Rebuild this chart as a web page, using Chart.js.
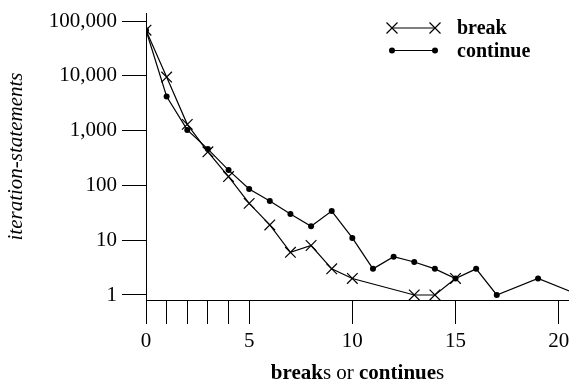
<!DOCTYPE html>
<html>
<head>
<meta charset="utf-8">
<script src="https://cdn.jsdelivr.net/npm/chart.js@4.4.1/dist/chart.umd.min.js"></script>
<style>
    html, body { margin: 0; padding: 0; background: #fff; overflow: hidden; }
    #wrap { position: relative; width: 569px; height: 383px; }
</style>
</head>
<body>
<div id="wrap"><canvas id="loopChart"></canvas></div>
<script>
// Values
const breakX = [0, 1, 2, 3, 4, 5, 6, 7, 8, 9, 10, 13, 14, 15];
const breakCounts = [68000, 9500, 1300, 410, 145, 47, 19, 6, 8, 3, 2, 1, 1, 2];
const continueX = [0, 1, 2, 3, 4, 5, 6, 7, 8, 9, 10, 11, 12, 13, 14, 15, 16, 17, 19, 21];
const continueCounts = [68000, 4200, 1030, 460, 190, 86, 52, 30, 18, 34, 11, 3, 5, 4, 3, 2, 3, 1, 2, 1];
const xTicks = [0, 1, 2, 3, 4, 5, 10, 15, 20];
const yTicks = [1, 10, 100, 1000, 10000, 100000];

const SERIF = '"Liberation Serif", "Times New Roman", serif';

function toPoints(xs, ys) {
    return xs.map((x, i) => ({ x: x, y: ys[i] }));
}

// Legend and mixed-weight x title drawn on the canvas
const extrasPlugin = {
    id: 'extras',
    afterDraw(chart) {
        const ctx = chart.ctx;
        ctx.save();
        ctx.strokeStyle = '#000';
        ctx.fillStyle = '#000';
        ctx.lineWidth = 1.2;

        // legend rows
        const rows = [
            { label: 'break', y: 28, style: 'cross' },
            { label: 'continue', y: 50.5, style: 'dot' }
        ];
        rows.forEach(r => {
            ctx.beginPath();
            ctx.moveTo(392, r.y);
            ctx.lineTo(435, r.y);
            ctx.stroke();
            [392, 435].forEach(px => {
                if (r.style === 'cross') {
                    const d = 5.5;
                    ctx.beginPath();
                    ctx.moveTo(px - d, r.y - d); ctx.lineTo(px + d, r.y + d);
                    ctx.moveTo(px - d, r.y + d); ctx.lineTo(px + d, r.y - d);
                    ctx.stroke();
                } else {
                    ctx.beginPath();
                    ctx.arc(px, r.y, 3, 0, Math.PI * 2);
                    ctx.fill();
                }
            });
            ctx.font = 'bold 20px ' + SERIF;
            ctx.textBaseline = 'middle';
            ctx.textAlign = 'left';
            ctx.fillText(r.label, 457, r.y + 1);
        });

        // x axis title: "breaks or continues"
        const parts = [
            ['break', 'bold'], ['s or ', 'normal'], ['continue', 'bold'], ['s', 'normal']
        ];
        ctx.textBaseline = 'alphabetic';
        let total = 0;
        parts.forEach(p => { ctx.font = p[1] + ' 21px ' + SERIF; total += ctx.measureText(p[0]).width; });
        const area = chart.chartArea;
        let x = (area.left + area.right) / 2 - total / 2;
        parts.forEach(p => {
            ctx.font = p[1] + ' 21px ' + SERIF;
            ctx.fillText(p[0], x, 379);
            x += ctx.measureText(p[0]).width;
        });
        ctx.restore();
    }
};

new Chart(document.getElementById('loopChart'), {
    type: 'line',
    data: {
        datasets: [
            {
                label: 'break',
                data: toPoints(breakX, breakCounts),
                borderColor: '#000',
                borderWidth: 1.2,
                pointStyle: 'crossRot',
                pointRadius: 7.5,
                pointBorderWidth: 1.2,
                pointBorderColor: '#000',
                pointBackgroundColor: '#000',
                tension: 0
            },
            {
                label: 'continue',
                data: toPoints(continueX, continueCounts),
                borderColor: '#000',
                borderWidth: 1.2,
                pointStyle: 'circle',
                pointRadius: 3,
                pointBorderWidth: 0,
                pointBackgroundColor: '#000',
                tension: 0
            }
        ]
    },
    options: {
        responsive: true,
        maintainAspectRatio: false,
        animation: false,
        layout: { autoPadding: false, padding: { top: 13, left: 0, right: 0, bottom: 0 } },
        plugins: {
            legend: { display: false },
            tooltip: { enabled: false }
        },
        scales: {
            x: {
                type: 'linear',
                min: 0,
                max: 20.5,
                border: { color: '#000', width: 1 },
                grid: { drawOnChartArea: false, tickLength: 24, color: '#000' },
                ticks: {
                    autoSkip: false,
                    maxRotation: 0,
                    includeBounds: false,
                    padding: 5,
                    color: '#000',
                    font: { family: SERIF, size: 21 },
                    callback: v => (v % 5 === 0 ? String(v) : '')
                },
                afterBuildTicks: scale => { scale.ticks = xTicks.map(v => ({ value: v })); },
                afterFit: scale => {
                    scale.height = 83;
                    scale.paddingLeft = 0;
                    scale.paddingRight = 0;
                }
            },
            y: {
                type: 'logarithmic',
                min: 0.81,
                max: 140000,
                border: { color: '#000', width: 1 },
                grid: { drawOnChartArea: false, tickLength: 24, color: '#000' },
                ticks: {
                    autoSkip: false,
                    padding: 5,
                    color: '#000',
                    font: { family: SERIF, size: 21 },
                    callback: v => Number(v).toLocaleString('en-US')
                },
                afterBuildTicks: scale => { scale.ticks = yTicks.map(v => ({ value: v })); },
                afterFit: scale => {
                    scale.width = 146;
                    scale.paddingTop = 0;
                    scale.paddingBottom = 0;
                },
                title: {
                    display: true,
                    text: 'iteration-statements',
                    color: '#000',
                    font: { family: SERIF, size: 21, style: 'italic' },
                    padding: { top: 4, bottom: 0 }
                }
            }
        }
    },
    plugins: [extrasPlugin]
});
</script>
</body>
</html>
